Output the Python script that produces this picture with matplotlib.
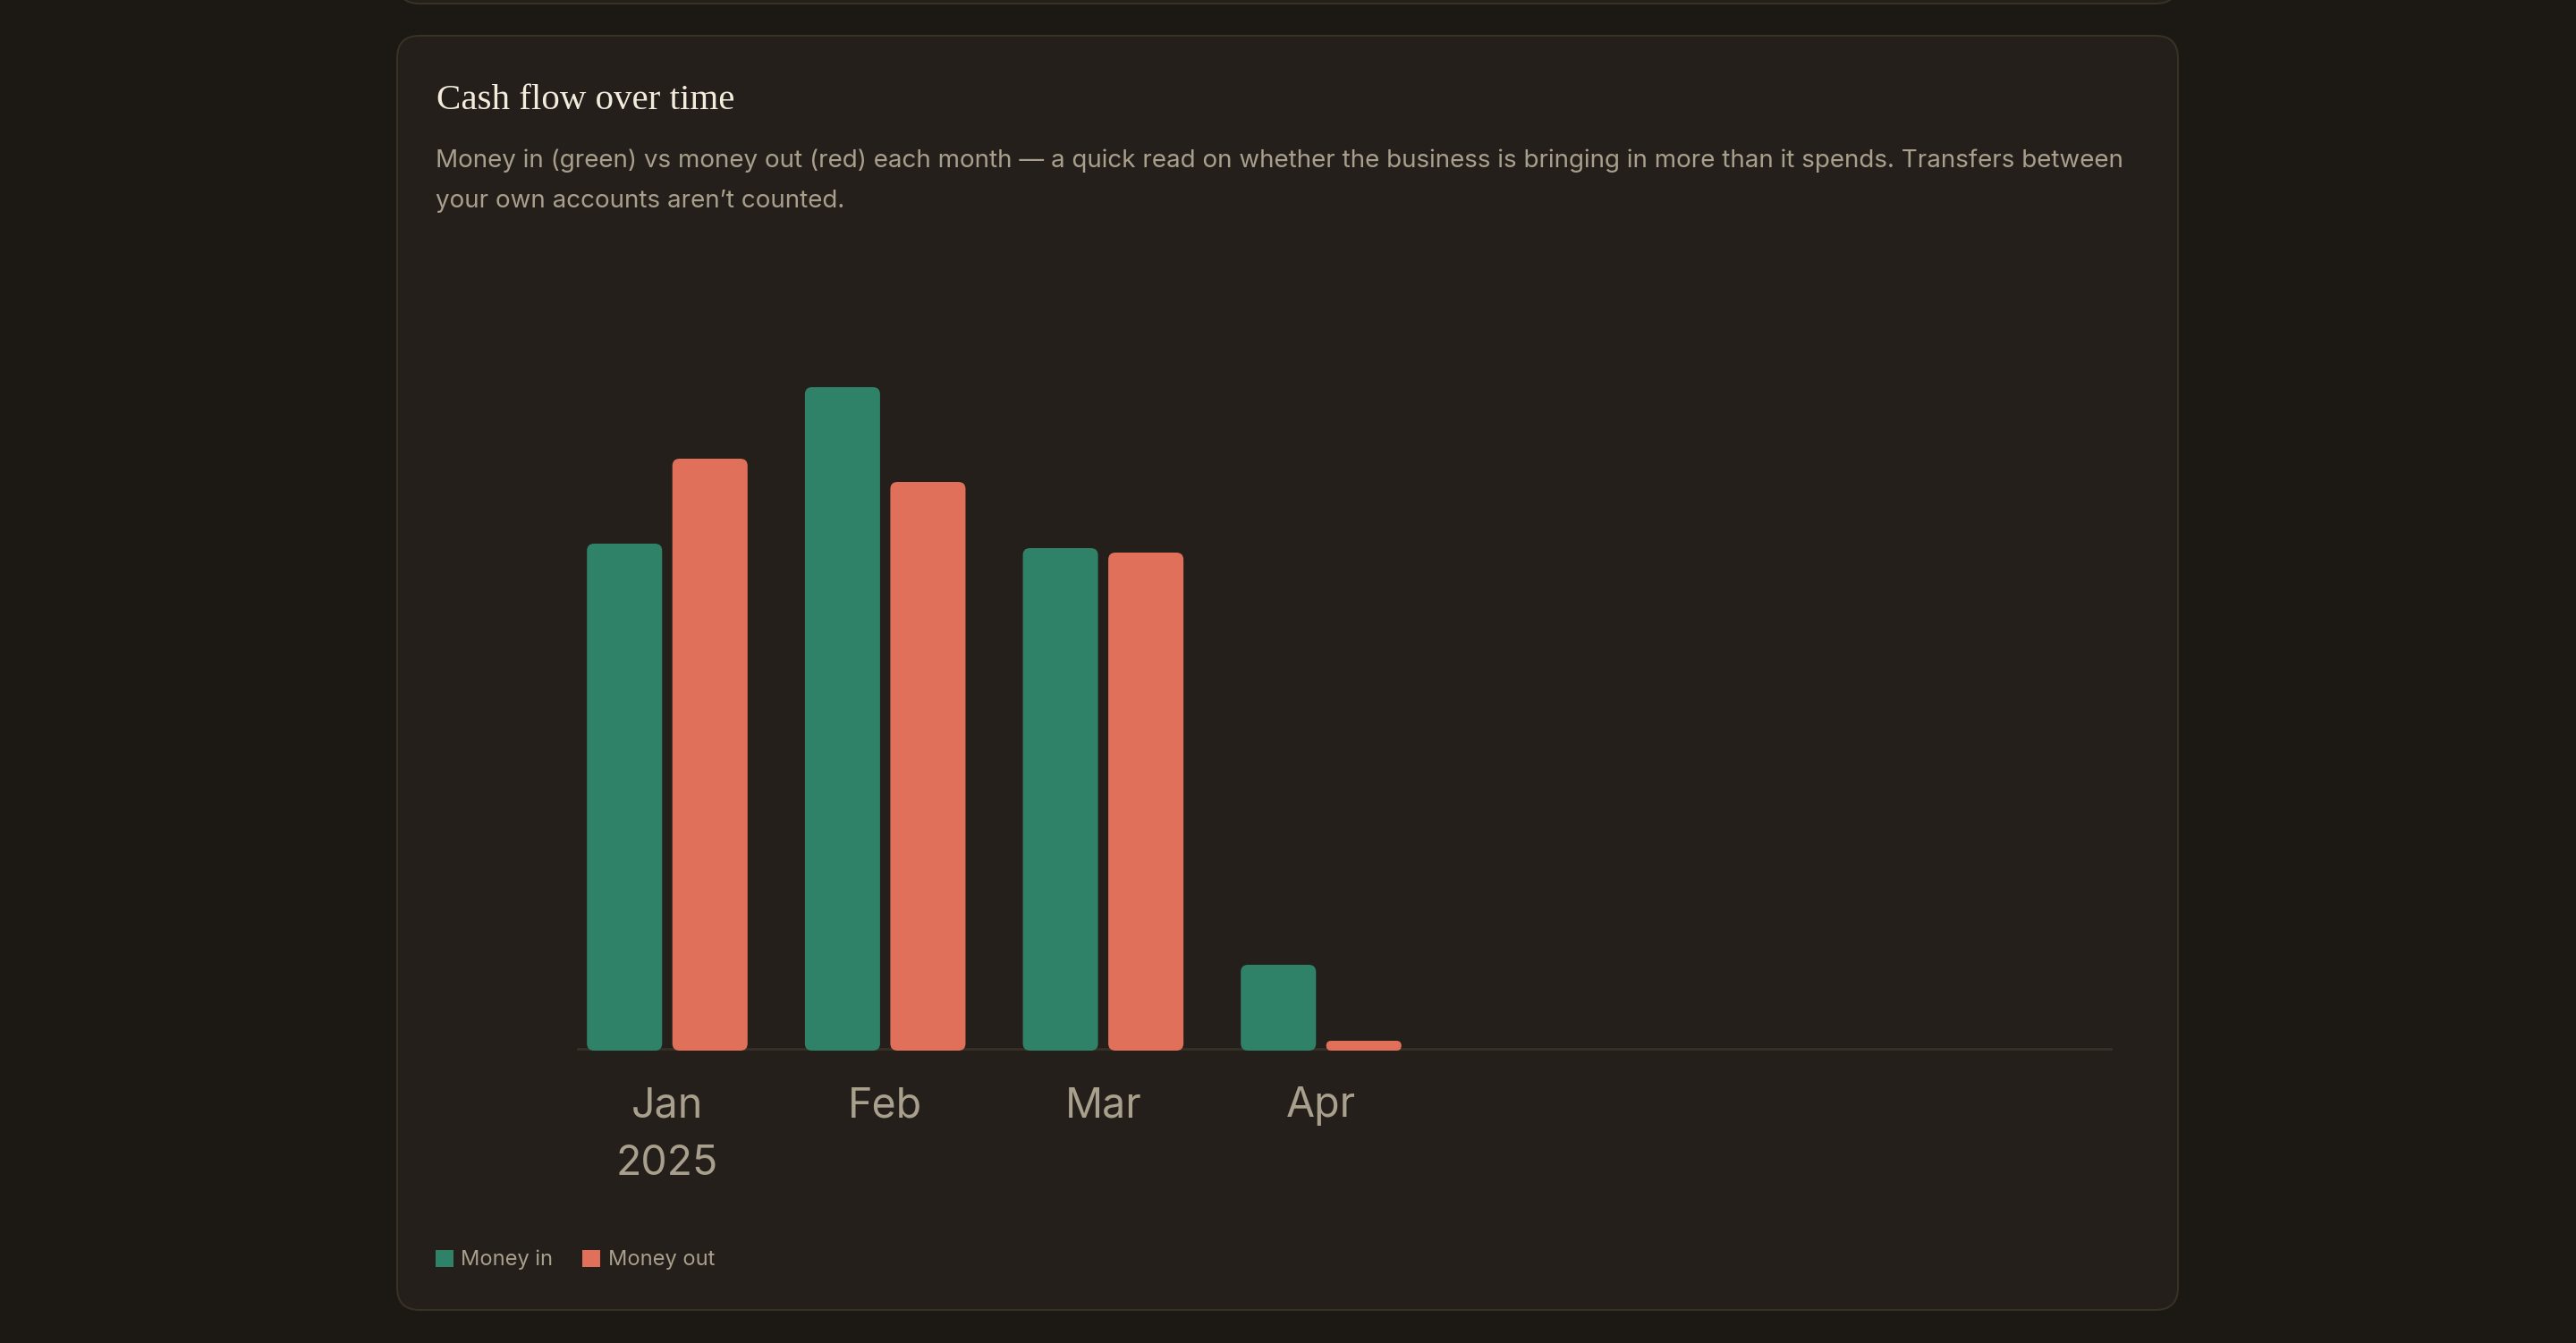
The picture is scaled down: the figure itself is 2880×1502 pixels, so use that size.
import numpy as np
import matplotlib
matplotlib.use("Agg")
import matplotlib.pyplot as plt
from matplotlib.patches import FancyBboxPatch, Patch
from matplotlib.transforms import IdentityTransform

# monthly cash flow (dollars)
months = ["Jan\n2025", "Feb", "Mar", "Apr"]
money_in = [28350, 37100, 28100, 4800]
money_out = [33100, 31800, 27850, 550]
n_slots = 7  # Jan..Jul on the axis, only 4 with data

title = "Cash flow over time"
subtitle1 = ("Money in (green) vs money out (red) each month \u2014 a quick read on whether "
             "the business is bringing in more than it spends. Transfers between")
subtitle2 = "your own accounts aren\u2019t counted."

green = "#2f8168"
red = "#e0705a"
page_bg = "#1c1814"
card_bg = "#241f1a"
card_edge = "#383126"
axis_col = "#362f26"
muted = "#a89f8d"
title_col = "#f3ebdc"

W, H = 2880, 1502
fig = plt.figure(figsize=(W / 100, H / 100), dpi=100)
fig.patch.set_facecolor(page_bg)
plt.rcParams['font.family'] = ['Inter', 'DejaVu Sans']

# card panels (pixel coords)
prev = FancyBboxPatch((444, H - 4), 1991, 200, boxstyle="round,pad=0,rounding_size=25",
                      transform=IdentityTransform(), facecolor=card_bg, edgecolor=card_edge,
                      linewidth=1.5, zorder=0)
fig.add_artist(prev)
card = FancyBboxPatch((444, H - 1465), 1991, 1425, boxstyle="round,pad=0,rounding_size=25",
                      transform=IdentityTransform(), facecolor=card_bg, edgecolor=card_edge,
                      linewidth=1.5, zorder=0)
fig.add_artist(card)

# texts
fig.text(488 / W, 1 - 122 / H, title, family=['Liberation Serif'], fontsize=29.5,
         color=title_col, va='baseline', ha='left')
fig.text(487 / W, 1 - 187 / H, subtitle1, fontsize=20, color=muted, va='baseline', ha='left')
fig.text(487 / W, 1 - 232 / H, subtitle2, fontsize=20, color=muted, va='baseline', ha='left')

# chart axes
ax_left, ax_right = 645, 2362
ax_bottom, ax_top = 1175, 300
ax = fig.add_axes([ax_left / W, 1 - ax_bottom / H, (ax_right - ax_left) / W, (ax_bottom - ax_top) / H])
ax.set_facecolor("none")
slot_px = 243.67
x = np.arange(len(months))
ax.set_xlim((ax_left - 746) / slot_px, (ax_right - 746) / slot_px)
ymax = 43750
ax.set_ylim(0, ymax)
for s in ax.spines.values():
    s.set_visible(False)
ax.set_yticks([])
ax.axhline(0, color=axis_col, linewidth=4.3, zorder=1)

bw = 0.345
off = 0.196
bars_in = ax.bar(x - off, money_in, width=bw, color=green)
bars_out = ax.bar(x + off, money_out, width=bw, color=red)

# rounded corners: swap each rectangle for a rounded box
ppx = (ax_bottom - ax_top) / ymax  # pixels per dollar
aspect = (1 / ppx) / (1 / slot_px)
r_data = 8 / slot_px
for cont in (bars_in, bars_out):
    for rect in cont:
        bx, by = rect.get_x(), rect.get_y()
        bwid, bh = rect.get_width(), rect.get_height()
        r = min(r_data, bwid / 2, bh / aspect / 2)
        rb = FancyBboxPatch((bx, by), bwid, bh, boxstyle=f"round,pad=0,rounding_size={r}",
                            mutation_aspect=aspect, facecolor=rect.get_facecolor(),
                            edgecolor='none', zorder=2)
        ax.add_patch(rb)
        rect.remove()

ax.set_xticks(x)
ax.set_xticklabels(months, fontsize=33.5, color=muted, linespacing=1.6)
ax.tick_params(axis='x', length=0, pad=29)

fig.legend(handles=[Patch(facecolor=green), Patch(facecolor=red)],
           labels=["Money in", "Money out"], loc='center left',
           bbox_to_anchor=(487 / W, 1 - 1409 / H), ncol=2, frameon=False,
           fontsize=17, labelcolor=muted, handlelength=0.85, handleheight=0.85,
           handletextpad=0.35, columnspacing=1.4, borderpad=0, borderaxespad=0)

fig.savefig("out.png", dpi=100, facecolor=page_bg)
